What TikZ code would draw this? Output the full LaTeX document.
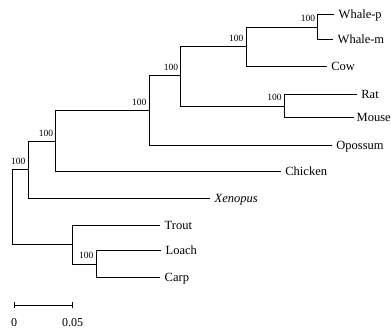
\documentclass[tikz,border=0pt]{standalone}
\usepackage{fontspec}
\setmainfont{Liberation Serif}
\begin{document}
\begin{tikzpicture}[x=1pt,y=-1pt,
  branch/.style={line width=1pt, line join=miter},
  leaf/.style={anchor=west, font=\fontsize{12.5}{12.5}\selectfont, inner xsep=4.5pt, inner ysep=0pt, text height=8pt, text depth=0pt},
  boot/.style={anchor=south east, font=\fontsize{9.5}{9.5}\selectfont, inner sep=0pt, xshift=-2.5pt, yshift=5pt},
  scalelbl/.style={anchor=center, font=\fontsize{12}{12}\selectfont, inner sep=0pt}
]
\useasboundingbox (0,0) rectangle (391,331);
% internal nodes
\coordinate (R)  at (12,207.5);
\coordinate (A)  at (28,170);
\coordinate (B)  at (55.7,141.7);
\coordinate (C)  at (149,111);
\coordinate (E)  at (180.7,76);
\coordinate (D)  at (246,46.5);
\coordinate (W)  at (317.7,27.2);
\coordinate (RM) at (284.3,106.2);
\coordinate (F)  at (72.7,245);
\coordinate (LC) at (96,264.2);
% leaves
\node[leaf] (whp) at (334,14.3) {Whale-p};
\node[leaf] (whm) at (333,40) {Whale-m};
\node[leaf] (cow) at (326.7,66.7) {Cow};
\node[leaf] (rat) at (356.7,94.3) {Rat};
\node[leaf, inner xsep=2.5pt] (mou) at (354,118) {Mouse};
\node[leaf] (opo) at (331.7,145.7) {Opossum};
\node[leaf] (chi) at (280.7,171.4) {Chicken};
\node[leaf] (xen) at (210,198.3) {\itshape Xenopus};
\node[leaf] (tro) at (160,225.7) {Trout};
\node[leaf] (loa) at (161,250.7) {Loach};
\node[leaf] (car) at (160,277.7) {Carp};
% branches
\draw[branch] (R) |- (A);
\draw[branch] (R) |- (F);
\draw[branch] (A) |- (B);
\draw[branch] (A) |- (xen.west);
\draw[branch] (B) |- (C);
\draw[branch] (B) |- (chi.west);
\draw[branch] (C) |- (E);
\draw[branch] (C) |- (opo.west);
\draw[branch] (E) |- (D);
\draw[branch] (E) |- (RM);
\draw[branch] (D) |- (W);
\draw[branch] (D) |- (cow.west);
\draw[branch] (W) |- (whp.west);
\draw[branch] (W) |- (whm.west);
\draw[branch] (RM) |- (rat.west);
\draw[branch] (RM) |- (mou.west);
\draw[branch] (F) |- (tro.west);
\draw[branch] (F) |- (LC);
\draw[branch] (LC) |- (loa.west);
\draw[branch] (LC) |- (car.west);
% bootstrap values
\node[boot] (bA)  at (A)  {100};
\node[boot] (bB)  at (B)  {100};
\node[boot] (bC)  at (C)  {100};
\node[boot] (bE)  at (E)  {100};
\node[boot] (bD)  at (D)  {100};
\node[boot] (bW)  at (W)  {100};
\node[boot] (bRM) at (RM) {100};
\node[boot] (bLC) at (LC) {100};
% scale bar
\coordinate (s0) at (14,305);
\coordinate (s1) at (72.7,305);
\draw[branch] (s0) -- (s1);
\draw[branch] ([yshift=3pt]s0) -- ([yshift=-3pt]s0);
\draw[branch] ([yshift=3pt]s1) -- ([yshift=-3pt]s1);
\node[scalelbl] (l0) at (14,322.5) {0};
\node[scalelbl] (l1) at (72.7,322.5) {0.05};
\end{tikzpicture}
\end{document}
